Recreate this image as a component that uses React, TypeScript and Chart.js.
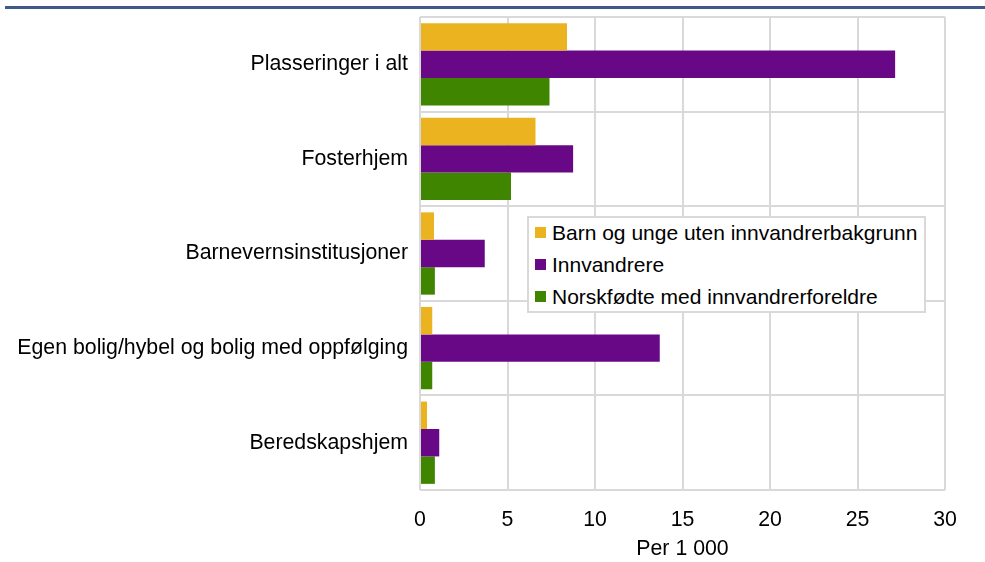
import React, { useEffect, useRef } from "react";
import { Chart, registerables } from "chart.js";

Chart.register(...registerables);

const categories = [
  "Plasseringer i alt",
  "Fosterhjem",
  "Barnevernsinstitusjoner",
  "Egen bolig/hybel og bolig med oppfølging",
  "Beredskapshjem",
];
const seriesNames = [
  "Barn og unge uten innvandrerbakgrunn",
  "Innvandrere",
  "Norskfødte med innvandrerforeldre",
];
const utenBakgrunn = [8.4, 6.6, 0.8, 0.7, 0.4];
const innvandrere = [27.15, 8.75, 3.7, 13.7, 1.1];
const norskfodte = [7.4, 5.2, 0.85, 0.7, 0.85];
const xTicks = [0, 5, 10, 15, 20, 25, 30];
const colors = ["#EBB31F", "#690886", "#3F8500"];

const FONT = "'Liberation Sans', Arial, sans-serif";
const FS = 21.3;

export default function App() {
  const ref = useRef<HTMLCanvasElement>(null);
  useEffect(() => {
    if (!ref.current) return;
    const values = [utenBakgrunn, innvandrere, norskfodte];
    const chart = new Chart(ref.current, {
      type: "bar",
      data: {
        labels: categories,
        datasets: values.map((v, i) => ({
          label: seriesNames[i],
          data: v,
          backgroundColor: colors[i],
          borderWidth: 0,
          barPercentage: 1,
          categoryPercentage: 0.87,
        })),
      },
      options: {
        indexAxis: "y",
        animation: false,
        responsive: false,
        maintainAspectRatio: false,
        layout: { padding: { top: 17, right: 40, left: 0, bottom: 0 } },
        plugins: {
          legend: { display: false },
          tooltip: { enabled: false },
        },
        scales: {
          x: {
            min: 0,
            max: 30,
            afterBuildTicks: (s: any) => {
              s.ticks = xTicks.map((t) => ({ value: t }));
            },
            afterFit: (s: any) => {
              s.height = 72;
              s.paddingLeft = 0;
              s.paddingRight = 0;
            },
            grid: { color: "#d9d9d9", lineWidth: 2, drawTicks: false },
            border: { display: false },
            ticks: {
              color: "#000",
              padding: 17,
              font: { family: FONT, size: FS },
            },
            title: {
              display: true,
              text: "Per 1 000",
              color: "#000",
              padding: { top: 5, bottom: 0 },
              font: { family: FONT, size: FS },
            },
          },
          y: {
            afterFit: (s: any) => {
              s.width = 420;
              s.paddingTop = 0;
              s.paddingBottom = 0;
            },
            grid: { color: "#d9d9d9", lineWidth: 2, drawTicks: false, offset: true },
            border: { display: false },
            ticks: {
              color: "#000",
              padding: 12,
              font: { family: FONT, size: FS },
            },
          },
        },
      },
    });
    return () => chart.destroy();
  }, []);

  return (
    <div
      style={{
        position: "fixed",
        left: 0,
        top: 0,
        width: 985,
        height: 562,
        background: "#fff",
        fontFamily: FONT,
      }}
    >
      <div
        style={{
          position: "absolute",
          left: 5,
          top: 6,
          width: 980,
          height: 3,
          background: "#3F5A8A",
        }}
      />
      <canvas ref={ref} width={985} height={562} style={{ position: "absolute", left: 0, top: 0 }} />
      <div
        style={{
          position: "absolute",
          left: 527,
          top: 216,
          width: 395,
          height: 93,
          background: "#fff",
          border: "2px solid #d9d9d9",
          boxSizing: "content-box",
          fontSize: 21,
          color: "#000",
        }}
      >
        {seriesNames.map((n, i) => (
          <div
            key={n}
            style={{
              position: "absolute",
              left: 6,
              top: 2.5 + i * 32,
              height: 24,
              lineHeight: "24px",
              display: "flex",
              alignItems: "center",
              whiteSpace: "nowrap",
            }}
          >
            <span
              style={{
                display: "inline-block",
                width: 11,
                height: 11,
                background: colors[i],
                marginRight: 6,
                flex: "none",
              }}
            />
            {n}
          </div>
        ))}
      </div>
    </div>
  );
}
